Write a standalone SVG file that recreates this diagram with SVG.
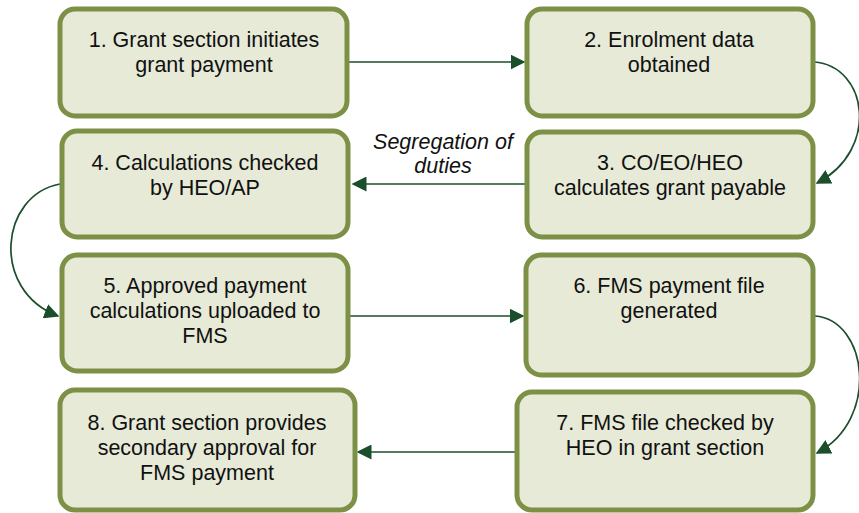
<svg xmlns="http://www.w3.org/2000/svg" width="859" height="513" viewBox="0 0 859 513">
<style>
.box{fill:#e6ead7;stroke:#7d9146;stroke-width:5}
.t{font-family:"Liberation Sans",Arial,sans-serif;font-size:21.5px;fill:#111;text-anchor:middle}
.c{fill:none;stroke:#1b4f2b;stroke-width:1.7}
.lbl{font-family:"Liberation Sans",Arial,sans-serif;font-size:21.5px;font-style:italic;fill:#111;text-anchor:middle}
</style>
<defs>
<marker id="ah" viewBox="0 0 10 10" refX="9" refY="5" markerWidth="15" markerHeight="15" markerUnits="userSpaceOnUse" orient="auto">
<path d="M0,0 L10,5 L0,10 z" fill="#1b4f2b"/>
</marker>
</defs>
<g id="connectors">
<path class="c" d="M348,62 L524,62" marker-end="url(#ah)"/>
<path class="c" d="M814,62 C868,66 880,150 817,183" marker-end="url(#ah)"/>
<path class="c" d="M525,184 L353,184" marker-end="url(#ah)"/>
<path class="c" d="M60,184 C0,195 -10,290 58,316" marker-end="url(#ah)"/>
<path class="c" d="M350,316 L523,316" marker-end="url(#ah)"/>
<path class="c" d="M815,316 C868,320 880,420 817,453" marker-end="url(#ah)"/>
<path class="c" d="M515,452 L358,452" marker-end="url(#ah)"/>
</g>
<g id="seg"><text class="lbl" x="443" y="149">Segregation of</text><text class="lbl" x="443" y="173">duties</text></g>
<g id="n1"><rect class="box" x="60" y="9" width="287" height="107" rx="15"/><text class="t" x="204" y="47">1. Grant section initiates</text><text class="t" x="204" y="72">grant payment</text></g>
<g id="n2"><rect class="box" x="527" y="9" width="286" height="107" rx="15"/><text class="t" x="669" y="47">2. Enrolment data</text><text class="t" x="669" y="72">obtained</text></g>
<g id="n3"><rect class="box" x="527" y="132" width="286" height="105" rx="15"/><text class="t" x="670" y="170">3. CO/EO/HEO</text><text class="t" x="670" y="195">calculates grant payable</text></g>
<g id="n4"><rect class="box" x="62" y="131" width="286" height="106" rx="15"/><text class="t" x="205" y="170">4. Calculations checked</text><text class="t" x="205" y="195">by HEO/AP</text></g>
<g id="n5"><rect class="box" x="62" y="255" width="286" height="116" rx="15"/><text class="t" x="205" y="293">5. Approved payment</text><text class="t" x="205" y="318">calculations uploaded to</text><text class="t" x="205" y="343">FMS</text></g>
<g id="n6"><rect class="box" x="526" y="255" width="287" height="120" rx="15"/><text class="t" x="669" y="293">6. FMS payment file</text><text class="t" x="669" y="318">generated</text></g>
<g id="n7"><rect class="box" x="517" y="392" width="296" height="118" rx="15"/><text class="t" x="665" y="430">7. FMS file checked by</text><text class="t" x="665" y="455">HEO in grant section</text></g>
<g id="n8"><rect class="box" x="60" y="390" width="295" height="120" rx="15"/><text class="t" x="207" y="430">8. Grant section provides</text><text class="t" x="207" y="455">secondary approval for</text><text class="t" x="207" y="480">FMS payment</text></g>
</svg>
